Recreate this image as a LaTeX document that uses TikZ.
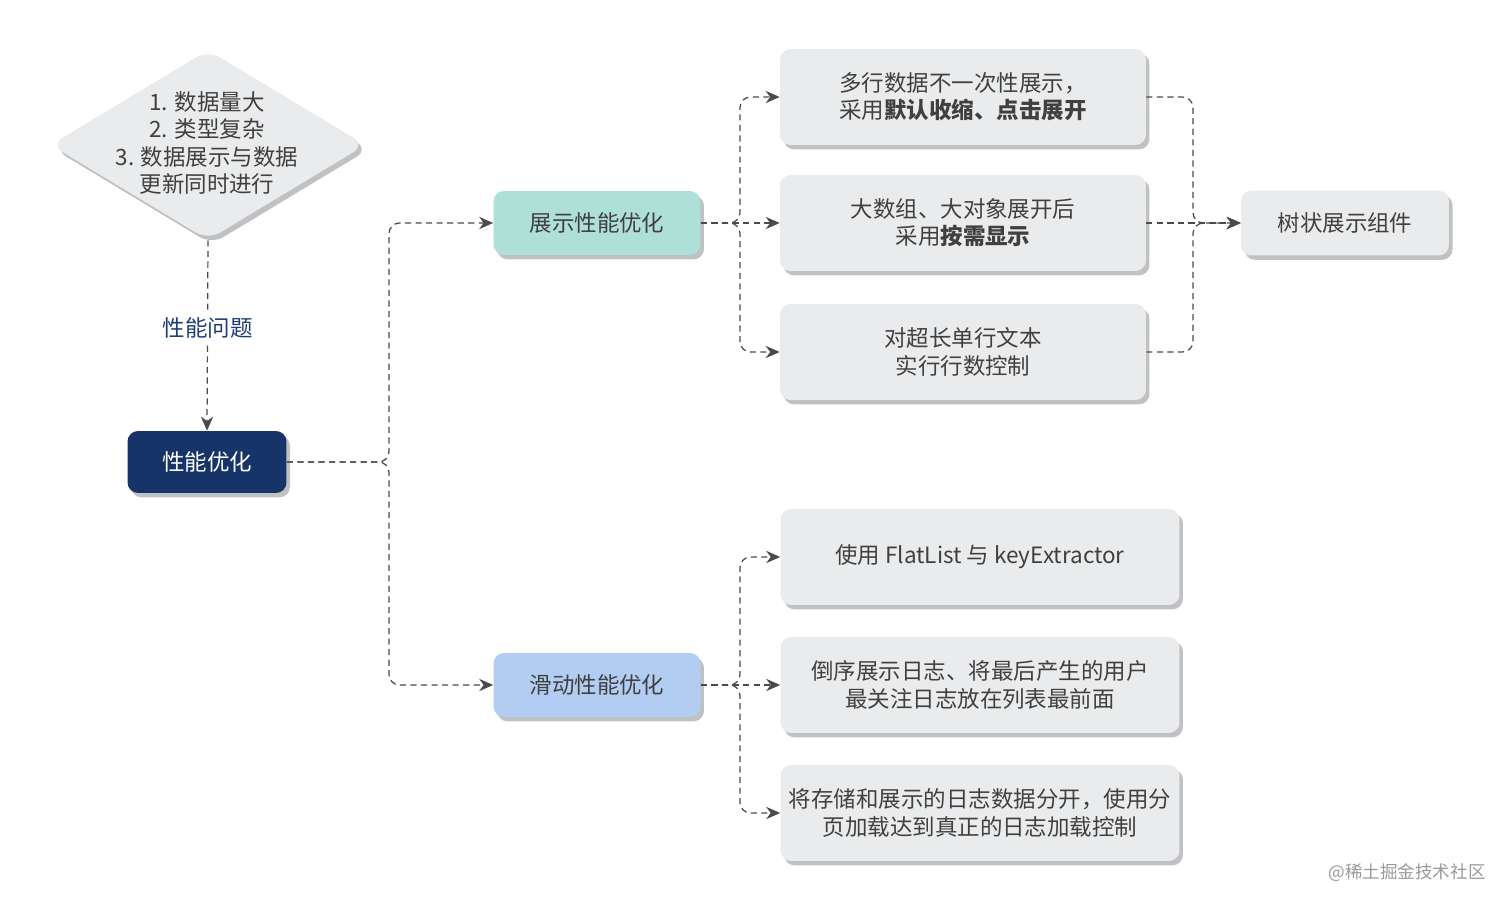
\documentclass[tikz,border=0pt]{standalone}
\usepackage{fontspec}
\setmainfont{Noto Sans CJK SC}
\usepackage{xcolor}
\usetikzlibrary{arrows.meta,shapes.geometric,shadows}
\definecolor{boxgray}{RGB}{234,235,236}
\definecolor{shadowgray}{RGB}{192,193,195}
\definecolor{textgray}{RGB}{64,64,64}
\definecolor{linegray}{RGB}{74,74,74}
\definecolor{navy}{RGB}{22,52,104}
\definecolor{labelnavy}{RGB}{31,61,116}
\definecolor{teal}{RGB}{174,224,216}
\definecolor{skyblue}{RGB}{178,205,241}

\begin{document}
\begin{tikzpicture}[x=0.02cm,y=-0.02cm,
  font=\fontsize{12.8pt}{15.5pt}\selectfont,
  shade/.style={general shadow={fill=shadowgray,shadow xshift=2pt,shadow yshift=-2.5pt}},
  card/.style={shade,rounded corners=6pt,fill=boxgray,text=textgray,align=center,minimum width=7.32cm,minimum height=1.92cm},
  widecard/.style={card,minimum width=7.98cm},
  stage/.style={shade,rounded corners=6pt,text=textgray,minimum width=4.14cm,minimum height=1.28cm},
  flow/.style={draw=linegray,line width=0.7pt,dash pattern=on 3.5pt off 2.5pt,rounded corners=6pt,-{Stealth[length=8pt,width=7pt]}}]
\useasboundingbox (0,0) rectangle (1512,908);

% problem and goal
\node[diamond,shade,fill=boxgray,rounded corners=8pt,inner sep=0pt,minimum width=6.3cm,minimum height=3.8cm] (issue) at (208,145) {};
\node[text=textgray,align=center] at (207,143) {1. 数据量大\\2. 类型复杂\\3. 数据展示与数据\\更新同时进行};
\node[shade,rounded corners=6pt,fill=navy,text=white,minimum width=3.18cm,minimum height=1.24cm] (perf) at (207,462) {性能优化};
\draw[flow] (issue.south) -- (perf.north) node[pos=0.46,fill=white,text=labelnavy]{性能问题};

% two directions
\node[stage,fill=teal] (show) at (597,223) {展示性能优化};
\node[stage,fill=skyblue] (slide) at (597,685) {滑动性能优化};
\coordinate (j1) at (389,462);
\draw[flow] (perf.east) -- (j1) |- (show.west);
\draw[flow] (perf.east) -- (j1) |- (slide.west);

% display
\node[card] (b1) at (963,97) {多行数据不一次性展示，\\采用\textbf{默认收缩、点击展开}};
\node[card] (b2) at (963,223) {大数组、大对象展开后\\采用\textbf{按需显示}};
\node[card] (b3) at (963,352) {对超长单行文本\\实行行数控制};
\node[stage,fill=boxgray,minimum width=4.16cm,minimum height=1.3cm] (tree) at (1345,223) {树状展示组件};
\coordinate (j2) at (740,223);
\draw[flow] (show.east) -- (j2) |- (b1.west);
\draw[flow] (show.east) -- (b2.west);
\draw[flow] (show.east) -- (j2) |- (b3.west);
\coordinate (j4) at (1193,223);
\draw[flow] (b1.east) -| (j4) -- (tree.west);
\draw[flow] (b2.east) -- (tree.west);
\draw[flow] (b3.east) -| (j4) -- (tree.west);

% scrolling
\node[widecard] (b5) at (980,557) {使用 FlatList 与 keyExtractor};
\node[widecard] (b6) at (980,685) {倒序展示日志、将最后产生的用户\\最关注日志放在列表最前面};
\node[widecard] (b7) at (980,813) {将存储和展示的日志数据分开，使用分\\页加载达到真正的日志加载控制};
\coordinate (j3) at (740,685);
\draw[flow] (slide.east) -- (j3) |- (b5.west);
\draw[flow] (slide.east) -- (b6.west);
\draw[flow] (slide.east) -- (j3) |- (b7.west);

\node[text=black!40,font=\fontsize{10pt}{12pt}\selectfont] (mark) at (1407,873) {@稀土掘金技术社区};
\end{tikzpicture}
\end{document}
